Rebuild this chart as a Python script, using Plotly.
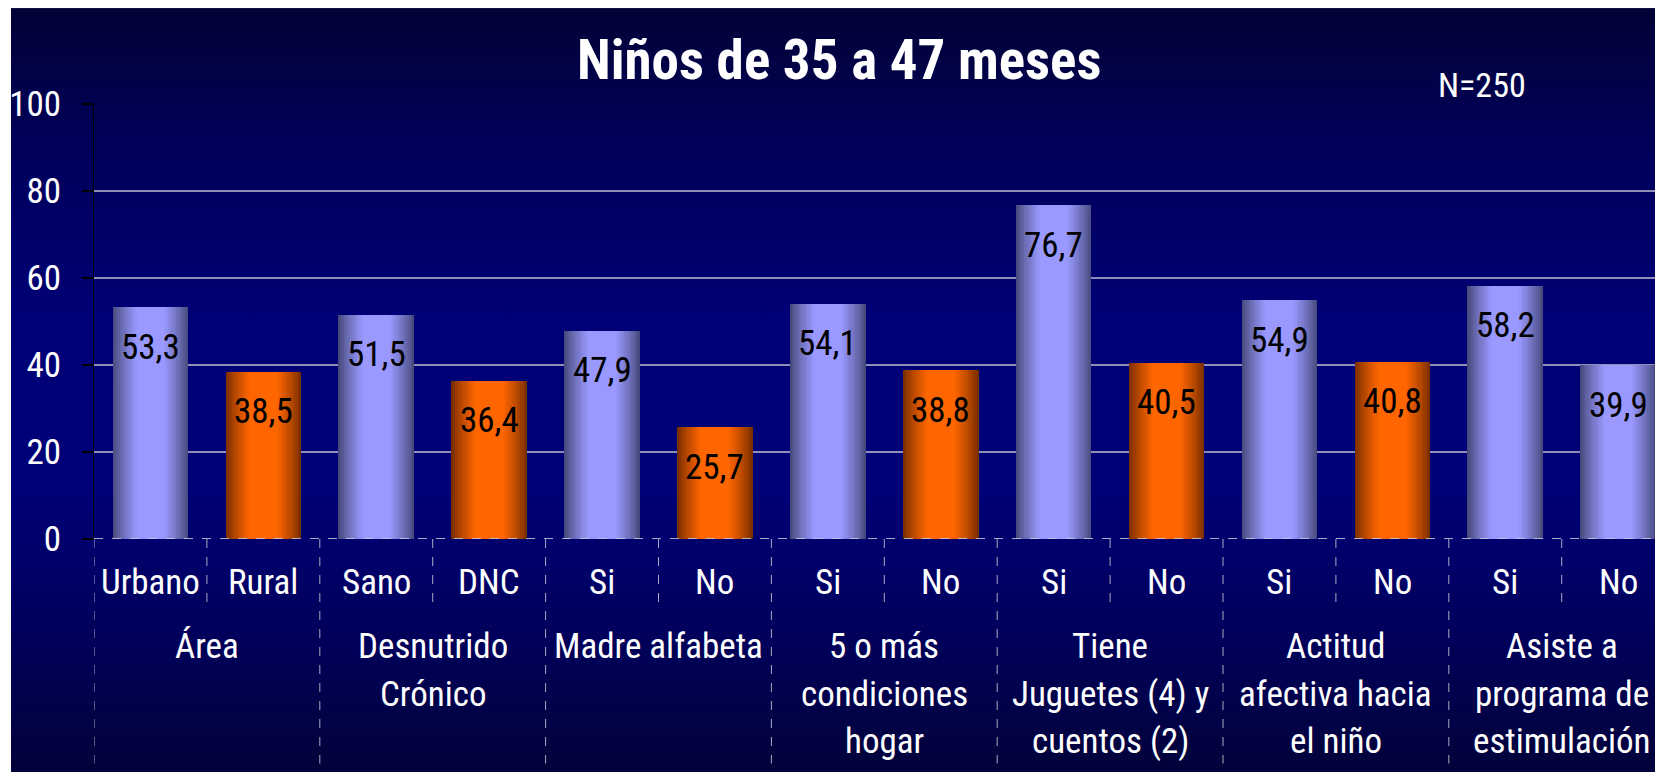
import base64
import plotly.graph_objects as go

# ---------------- data ----------------
sub_labels = ["Urbano", "Rural", "Sano", "DNC", "Si", "No", "Si", "No",
              "Si", "No", "Si", "No", "Si", "No"]
values = [53.3, 38.5, 51.5, 36.4, 47.9, 25.7, 54.1, 38.8,
          76.7, 40.5, 54.9, 40.8, 58.2, 39.9]
group_labels = ["Área", "Desnutrido<br>Crónico", "Madre alfabeta",
                "5 o más<br>condiciones<br>hogar",
                "Tiene<br>Juguetes (4) y<br>cuentos (2)",
                "Actitud<br>afectiva hacia<br>el niño",
                "Asiste a<br>programa de<br>estimulación"]
title_text = "Niños de 35 a 47 meses"
n_text = "N=250"
y_ticks = [0, 20, 40, 60, 80, 100]

# ---------------- geometry (figure pixels; page has 8px body margin) ----------------
OFF = 8
W, H = 1663, 772
PLOT_L, PLOT_R = 94 - OFF, W
PLOT_T, PLOT_B = 104 - OFF, 539.3 - OFF
SLOT = 112.9
BAR_W = 0.67
FONT = "Roboto Condensed, Liberation Sans Narrow, Arial Narrow, DejaVu Sans Condensed, sans-serif"

plot_w = PLOT_R - PLOT_L
plot_h = PLOT_B - PLOT_T
x_max = -0.5 + plot_w / SLOT


def py(page_pix):
    """page pixel y -> paper y"""
    return (PLOT_B - (page_pix - OFF)) / plot_h


def px(page_pix):
    return ((page_pix - OFF) - PLOT_L) / plot_w


def hex2rgb(h):
    h = h.lstrip("#")
    return tuple(int(h[i:i + 2], 16) for i in (0, 2, 4))


def mix(c1, c2, t):
    a, b = hex2rgb(c1), hex2rgb(c2)
    return "rgb(%d,%d,%d)" % tuple(round(a[i] + (b[i] - a[i]) * t) for i in range(3))


fig = go.Figure()

# bars: overlays of narrowing widths give the horizontal shading
is_orange = [i % 2 == 1 and i < 12 for i in range(len(values))]
light = ["#FF6600" if o else "#9999FF" for o in is_orange]
dark = ["#7A2E00" if o else "#474A7C" for o in is_orange]
N_LAYERS = 22
x_idx = list(range(len(values)))
for k in range(N_LAYERS):
    frac = 1 - k / N_LAYERS
    p = k / N_LAYERS  # 0 edge -> 1 centre
    t = min(1.0, p / 0.62) ** 0.85
    cols = [mix(d, l, t) for d, l in zip(dark, light)]
    fig.add_trace(go.Bar(x=x_idx, y=values, width=BAR_W * frac,
                         marker=dict(color=cols, line=dict(width=0)),
                         hoverinfo="skip", showlegend=False))

# ---------------- background gradient ----------------
bg_l = 3
svg = f"""<svg xmlns='http://www.w3.org/2000/svg' width='{W-bg_l}' height='{H}' preserveAspectRatio='none'>
<defs><linearGradient id='g' x1='0' y1='0' x2='0' y2='1'>
<stop offset='0' stop-color='#020236'/>
<stop offset='0.18' stop-color='#00005a'/>
<stop offset='0.40' stop-color='#000076'/>
<stop offset='0.62' stop-color='#000078'/>
<stop offset='0.82' stop-color='#00005a'/>
<stop offset='1' stop-color='#020238'/>
</linearGradient></defs>
<rect width='100%' height='100%' fill='url(#g)'/></svg>"""
src = "data:image/svg+xml;base64," + base64.b64encode(svg.encode()).decode()

images = [dict(source=src, xref="paper", yref="paper",
               x=(bg_l - PLOT_L) / plot_w, y=PLOT_B / plot_h,
               sizex=(W - bg_l) / plot_w, sizey=H / plot_h,
               xanchor="left", yanchor="top", sizing="stretch", layer="below")]

# ---------------- shapes ----------------
shapes = []
sep_col = "rgba(200,200,210,0.85)"
shapes.append(dict(type="line", xref="x", yref="y", x0=-0.5, x1=x_max, y0=0, y1=0,
                   line=dict(color=sep_col, width=2, dash="dash"), layer="above"))
for b in range(len(values) + 1):
    xb = b - 0.5
    long_line = (b % 2 == 0)
    y_end = py(764) if long_line else py(609)
    shapes.append(dict(type="line", xref="x", yref="paper", x0=xb, x1=xb,
                       y0=0, y1=y_end,
                       line=dict(color=sep_col, width=1, dash="dash")))

# ---------------- annotations ----------------
ann = []
for i, v in enumerate(values):
    ann.append(dict(x=i, y=v, xref="x", yref="y", text=f"{v:.1f}".replace(".", ","),
                    showarrow=False, yshift=-40, yanchor="middle",
                    font=dict(family=FONT, size=35, color="black")))
for i, s in enumerate(sub_labels):
    ann.append(dict(x=i, y=py(583), xref="x", yref="paper", text=s, showarrow=False,
                    yanchor="middle", font=dict(family=FONT, size=35, color="white")))
line_y = [647, 695, 742]
for g, lab in enumerate(group_labels):
    for j, line in enumerate(lab.split("<br>")):
        ann.append(dict(x=2 * g + 0.5, y=py(line_y[j]), xref="x", yref="paper",
                        text=line, showarrow=False, yanchor="middle",
                        font=dict(family=FONT, size=35, color="white")))
ann.append(dict(x=px(839), y=py(60), xref="paper", yref="paper", text=f"<b>{title_text}</b>",
                showarrow=False, yanchor="middle", xanchor="center",
                font=dict(family=FONT, size=55, color="white")))
ann.append(dict(x=px(1482), y=py(85), xref="paper", yref="paper", text=n_text,
                showarrow=False, yanchor="middle", xanchor="center",
                font=dict(family=FONT, size=34, color="white")))

fig.update_layout(
    width=W, height=H,
    margin=dict(l=PLOT_L, r=W - PLOT_R, t=PLOT_T, b=H - PLOT_B, pad=0),
    paper_bgcolor="white", plot_bgcolor="rgba(0,0,0,0)",
    barmode="overlay", bargap=0,
    showlegend=False,
    images=images, shapes=shapes, annotations=ann,
    xaxis=dict(range=[-0.5, x_max], showticklabels=False, showgrid=False,
               zeroline=False, showline=False, ticks="", fixedrange=True),
    yaxis=dict(range=[0, 100], tickvals=y_ticks, showgrid=True,
               gridcolor="rgba(150,150,185,0.95)", gridwidth=1.5,
               zeroline=False, showline=True, linecolor="black", linewidth=1,
               ticks="outside", ticklen=11, tickcolor="black", tickwidth=2,
               ticklabelstandoff=14,
               tickfont=dict(family=FONT, size=35, color="white"), fixedrange=True),
)

fig.write_html("out.html")
